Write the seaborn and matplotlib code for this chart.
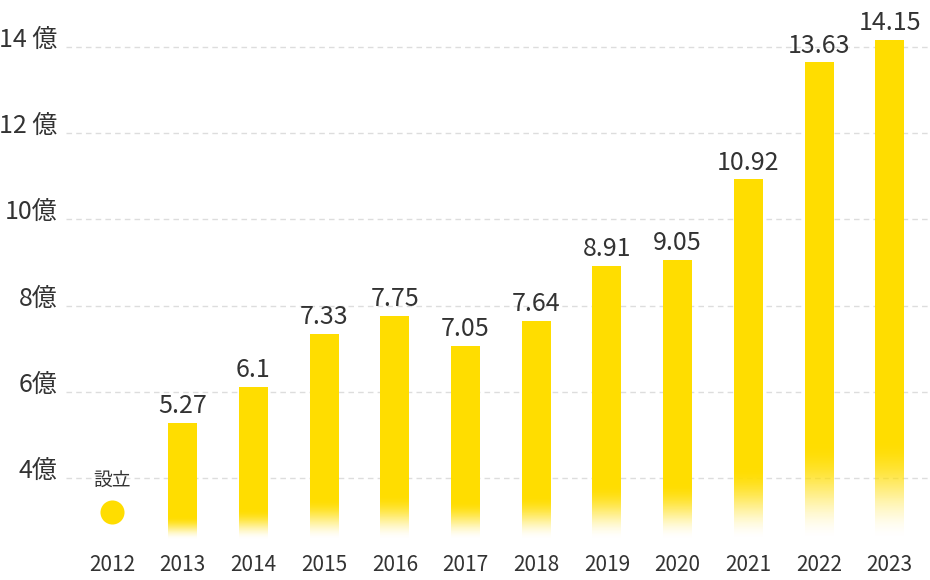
import matplotlib

matplotlib.use("Agg")
import matplotlib.pyplot as plt
import matplotlib.transforms as mtransforms
import numpy as np
import pandas as pd
import seaborn as sns
from matplotlib.colors import to_rgb

# data (revenue, 億)
years = ["2012", "2013", "2014", "2015", "2016", "2017",
         "2018", "2019", "2020", "2021", "2022", "2023"]
bar_years = years[1:]
revenue = [5.27, 6.1, 7.33, 7.75, 7.05, 7.64, 8.91, 9.05, 10.92, 13.63, 14.15]
y_ticks = [4, 6, 8, 10, 12, 14]
y_tick_labels = ["4億", "6億", "8億", "10億", "12 億", "14 億"]
founded_year = "2012"
founded_label = "設立"

YELLOW = "#FFDD00"
TEXT = "#333333"
GRID = "#DDDDDD"

sns.set_theme(style="white")
plt.rcParams["font.family"] = ["Noto Sans CJK JP", "DejaVu Sans"]


def draw_gradient_bars(ax, ybot, fade=0.2):
    # bars fade to white toward the bottom of the visible part
    n = 1024
    ramp = np.linspace(0, 1, n)
    alpha = np.clip(ramp / fade, 0, 1)
    alpha = alpha * alpha * (3 - 2 * alpha)
    rgba = np.ones((n, 1, 4))
    rgba[..., :3] = to_rgb(YELLOW)
    rgba[:, 0, 3] = alpha
    for patch in ax.patches:
        x0 = patch.get_x()
        w = patch.get_width()
        h = patch.get_height()
        ax.imshow(rgba, extent=[x0, x0 + w, ybot, h], origin="lower",
                  aspect="auto", interpolation="nearest", zorder=2)
        patch.set_visible(False)


def main() -> None:
    fig = plt.figure(figsize=(9.3, 5.8), dpi=100)
    ax = fig.add_axes([66 / 930, 40 / 580, 864 / 930, 540 / 580])

    df = pd.DataFrame({"year": bar_years, "revenue": revenue})
    sns.barplot(data=df, x="year", y="revenue", order=years, color=YELLOW,
                width=0.41, saturation=1, errorbar=None, ax=ax)

    ybot, ytop = 2.56, 15.09
    xlim = (-0.65, 11.57)
    ax.set_ylim(ybot, ytop)
    ax.set_xlim(*xlim)

    draw_gradient_bars(ax, ybot)

    ax.bar_label(ax.containers[0], fmt="{:g}", padding=3, fontsize=18,
                 color=TEXT)

    # founding marker
    idx = years.index(founded_year)
    trans = mtransforms.blended_transform_factory(ax.transData, ax.transAxes)
    ax.scatter([idx], [0.052], s=300, color=YELLOW, transform=trans,
               zorder=3, clip_on=False, linewidths=0)
    ax.annotate(founded_label, xy=(idx, 0.052), xycoords=trans,
                xytext=(0, 23), textcoords="offset points", ha="center",
                va="center", fontsize=13.5, color=TEXT)

    ax.set_yticks(y_ticks, y_tick_labels)
    ax.grid(axis="y", color=GRID, linestyle=(0, (4, 3)), linewidth=1)
    ax.grid(axis="x", visible=False)
    ax.set_axisbelow(True)
    sns.despine(ax=ax, left=True, bottom=True)

    ax.tick_params(axis="x", length=0, pad=10, labelsize=15, colors=TEXT)
    ax.tick_params(axis="y", length=0, pad=6, labelsize=18, colors=TEXT)
    plt.setp(ax.get_yticklabels(), va="baseline")
    ax.set_xlabel("")
    ax.set_ylabel("")
    ax.set_ylim(ybot, ytop)
    ax.set_xlim(*xlim)

    fig.savefig("out.png", dpi=100)
    plt.close(fig)


if __name__ == "__main__":
    main()
